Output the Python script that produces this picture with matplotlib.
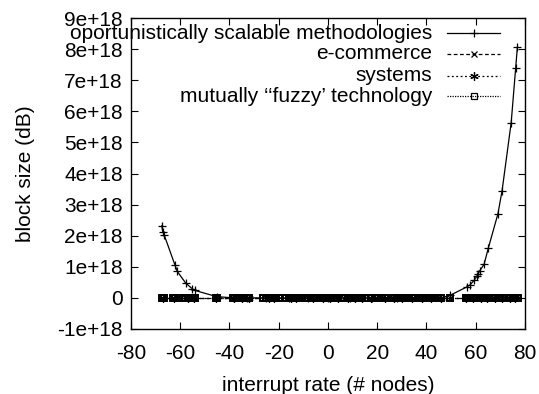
"""Recreate the gnuplot-style block size vs interrupt rate chart."""

import matplotlib

matplotlib.use("Agg")

import matplotlib.pyplot as plt
from matplotlib.lines import Line2D
from matplotlib.ticker import FuncFormatter, MultipleLocator


# main curve (values in units of 1e18)
main_x = [-67.5, -67.1, -66.5, -62.1, -61.2, -57.7, -55.2, -54.0, -45.2, -38, -33, -25,
          -16, -8, 0, 9, 18, 28, 38, 46, 49.5, 56.3, 57.7, 59.3, 60.4, 61.0, 61.7, 63.4,
          65.1, 69.0, 70.7, 74.4, 76.2, 76.9]
main_y = [2.32, 2.13, 2.02, 1.05, 0.85, 0.47, 0.30, 0.24, 0.04, 0, 0, 0,
          0, 0, 0, 0, 0, 0, 0, 0, 0.08, 0.35, 0.42, 0.56, 0.69, 0.78, 0.88, 1.08,
          1.6, 2.7, 3.45, 5.64, 7.38, 8.06]

# flat series, all sitting on zero
ecommerce_x = [-67.5, -63, -58, -55, -45, -37, -33, -25, -21, -16, -12, -8, -4, 0, 3,
               6.5, 10, 13, 19, 22, 28, 31, 36, 40, 44, 49.5, 57, 60, 63, 65.5, 69, 71,
               75, 77]
ecommerce_y = [0] * len(ecommerce_x)
systems_x = [-67, -62.5, -57, -54.5, -45.5, -38, -35, -32, -24, -22, -15, -13, -6, -2, 1,
             4, 8, 11, 14, 17.5, 23, 27, 30, 34, 38, 42, 46, 56, 59, 62, 64.5, 68, 70.5,
             74, 76]
systems_y = [0] * len(systems_x)
fuzzy_x = [-67.5, -67, -66.5, -63, -62.5, -62, -59, -58, -57, -56, -55, -54, -45.5, -45,
           -38.5, -37, -36, -35, -34, -33, -32, -26.5, -25, -24, -23, -22, -21, -20, -17,
           -16, -15, -14, -13, -12, -11, -9, -8, -7, -6, -5, -4, -3, -2, -1, 0, 1, 2, 3,
           4, 5.5, 6.5, 8, 9, 10, 11, 12, 13, 14, 15, 17.5, 19, 20.5, 22, 23, 26.5, 28,
           29.5, 31, 32.5, 34, 35.5, 37, 38.5, 40, 41.5, 43, 44.5, 46, 49.5, 56, 57, 58,
           59, 60, 61, 62, 63, 64, 65.5, 68, 69, 70, 71, 74, 75, 76, 77]
fuzzy_y = [0] * len(fuzzy_x)

labels = ["oportunistically scalable methodologies", "e-commerce", "systems",
          "mutually \u2018\u2018fuzzy\u2019 technology"]

SCALE = 1e18


def main() -> None:
    plt.rcParams.update({
        "font.family": ["Liberation Sans", "DejaVu Sans"],
        "font.size": 15,
        "axes.unicode_minus": False,
    })
    fig = plt.figure(figsize=(5.39, 3.94), dpi=100)
    ax = fig.add_axes([0.243, 0.165, 0.731, 0.789])

    styles = [
        dict(ls="-", marker="+", ms=6, mew=0.9),
        dict(ls=(0, (3, 2)), marker="x", ms=5, mew=0.9),
        dict(ls=(0, (1.5, 2)), marker=(6, 2, 0), ms=6, mew=0.9),
        dict(ls=(0, (1, 1)), marker="s", ms=5, mew=1.4, mfc="none"),
    ]
    series = [(main_x, main_y), (ecommerce_x, ecommerce_y), (systems_x, systems_y),
              (fuzzy_x, fuzzy_y)]
    for (xs, ys), st in zip(series, styles):
        ax.plot(xs, [v * SCALE for v in ys], color="black", lw=0.9, **st)

    # right-aligned gnuplot style key
    rows = [0.952, 0.885, 0.815, 0.748]
    for label, st, y in zip(labels, styles, rows):
        ax.text(0.764, y, label, transform=ax.transAxes, ha="right", va="center")
        ax.add_line(Line2D([0.802, 0.937], [y, y], transform=ax.transAxes, color="black",
                           lw=0.9, ls=st["ls"]))
        mk = {k: v for k, v in st.items() if k != "ls"}
        mk["mew"] = 0.9
        ax.add_line(Line2D([0.8695], [y], transform=ax.transAxes, color="black", ls="none",
                           **mk))

    ax.set_xlim(-80, 80)
    ax.set_ylim(-1 * SCALE, 9 * SCALE)
    ax.xaxis.set_major_locator(MultipleLocator(20))
    ax.yaxis.set_major_locator(MultipleLocator(SCALE))
    fmt = FuncFormatter(lambda v, _: "0" if abs(v) < 1 else f"{v:g}")
    ax.xaxis.set_major_formatter(fmt)
    ax.yaxis.set_major_formatter(fmt)
    ax.tick_params(direction="in", length=5, width=0.8, top=True, right=True, pad=6)
    ax.tick_params(axis="x", pad=11)
    for spine in ax.spines.values():
        spine.set_linewidth(1.0)

    ax.set_xlabel("interrupt rate (# nodes)", labelpad=9)
    ax.set_ylabel("block size (dB)", labelpad=16)

    fig.savefig("out.png", dpi=100)
    plt.close(fig)


if __name__ == "__main__":
    main()
